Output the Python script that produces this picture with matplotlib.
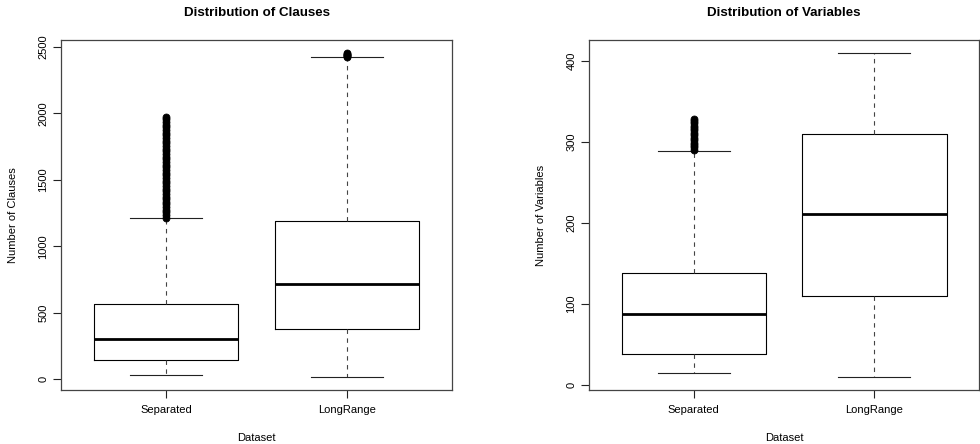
import matplotlib
matplotlib.use("Agg")
import matplotlib.pyplot as plt

plt.rcParams['font.family'] = ['Liberation Sans', 'DejaVu Sans']

categories = ["Separated", "LongRange"]

# Clauses: [lower whisker, Q1, median, Q3, upper whisker]
clauses_stats = {
    "Separated": [30, 143, 303, 568, 1212],
    "LongRange": [18, 378, 721, 1194, 2420],
}
clauses_outliers = {
    "Separated": [1215, 1235, 1255, 1275, 1295, 1315, 1335, 1355, 1375, 1395,
                  1415, 1435, 1455, 1475, 1495, 1515, 1535, 1555, 1575, 1595,
                  1615, 1635, 1655, 1675, 1695, 1715, 1735, 1755, 1775, 1795,
                  1815, 1835, 1855, 1875, 1895, 1915, 1935, 1955, 1972],
    "LongRange": [2424, 2430, 2436, 2442, 2448, 2454],
}

# Variables
variables_stats = {
    "Separated": [15, 38.6, 88, 138, 288.5],
    "LongRange": [10, 110, 210.5, 310, 409.5],
}
variables_outliers = {
    "Separated": [290, 293, 296, 299, 302, 305, 308, 311, 314, 317, 320, 323, 326, 328],
    "LongRange": [],
}

titles = ["Distribution of Clauses", "Distribution of Variables"]
ylabels = ["Number of Clauses", "Number of Variables"]
yticks_list = [[0, 500, 1000, 1500, 2000, 2500], [0, 100, 200, 300, 400]]

W, H = 980, 444
fig = plt.figure(figsize=(W / 100, H / 100), dpi=100)

axes_px = [(61, 452), (589, 979)]
top_px, bot_px = 40, 390

panels = [(clauses_stats, clauses_outliers), (variables_stats, variables_outliers)]

for i, ((stats_d, outl_d), (x0, x1)) in enumerate(zip(panels, axes_px)):
    ax = fig.add_axes([x0 / W, (H - bot_px) / H, (x1 - x0) / W, (bot_px - top_px) / H])
    bxp_stats = []
    allv = []
    for c in categories:
        lw_, q1, med, q3, hw = stats_d[c]
        fl = outl_d[c]
        bxp_stats.append(dict(whislo=lw_, q1=q1, med=med, q3=q3, whishi=hw,
                              fliers=fl, label=c))
        allv += [lw_, hw] + list(fl)
    ax.bxp(bxp_stats, positions=[1, 2], widths=0.8, capwidths=0.4,
           boxprops=dict(color='black', linewidth=0.8),
           whiskerprops=dict(color='#444444', linewidth=0.8, linestyle=(0, (4, 4))),
           capprops=dict(color='#222222', linewidth=0.8),
           medianprops=dict(color='black', linewidth=2.0),
           flierprops=dict(marker='o', markersize=5, markerfacecolor='black',
                           markeredgecolor='black', markeredgewidth=0.6))
    lo, hi = min(allv), max(allv)
    ext = (hi - lo) * 0.04
    ax.set_ylim(lo - ext, hi + ext)
    ax.set_xlim(0.42, 2.58)
    ax.set_yticks(yticks_list[i])
    ax.set_yticklabels([str(t) for t in yticks_list[i]], rotation=90, va='center')
    ax.set_xticks([1, 2])
    ax.set_xticklabels(categories)
    ax.tick_params(axis='both', direction='out', length=5.5, width=0.8,
                   labelsize=8, color='#222222')
    ax.tick_params(axis='y', pad=3.5)
    ax.tick_params(axis='x', pad=5)
    for s in ax.spines.values():
        s.set_linewidth(0.9)
        s.set_color('#444444')
    ax.set_ylabel(ylabels[i], fontsize=8)
    ax.yaxis.set_label_coords((13.5 - x0 + (0 if i == 0 else 0)) / (x1 - x0) if i == 0 else (541 - x0) / (x1 - x0), 0.5)
    ax.yaxis.label.set_va('center')
    ax.set_xlabel("Dataset", fontsize=8)
    ax.xaxis.set_label_coords(0.5, (bot_px - 437.5) / (bot_px - top_px))
    ax.xaxis.label.set_va('center')
    fig.text((x0 + x1) / 2 / W, 1 - 12.5 / H, titles[i], ha='center', va='center',
             fontsize=9.6, fontweight='bold')

fig.savefig("out.png", dpi=100)
